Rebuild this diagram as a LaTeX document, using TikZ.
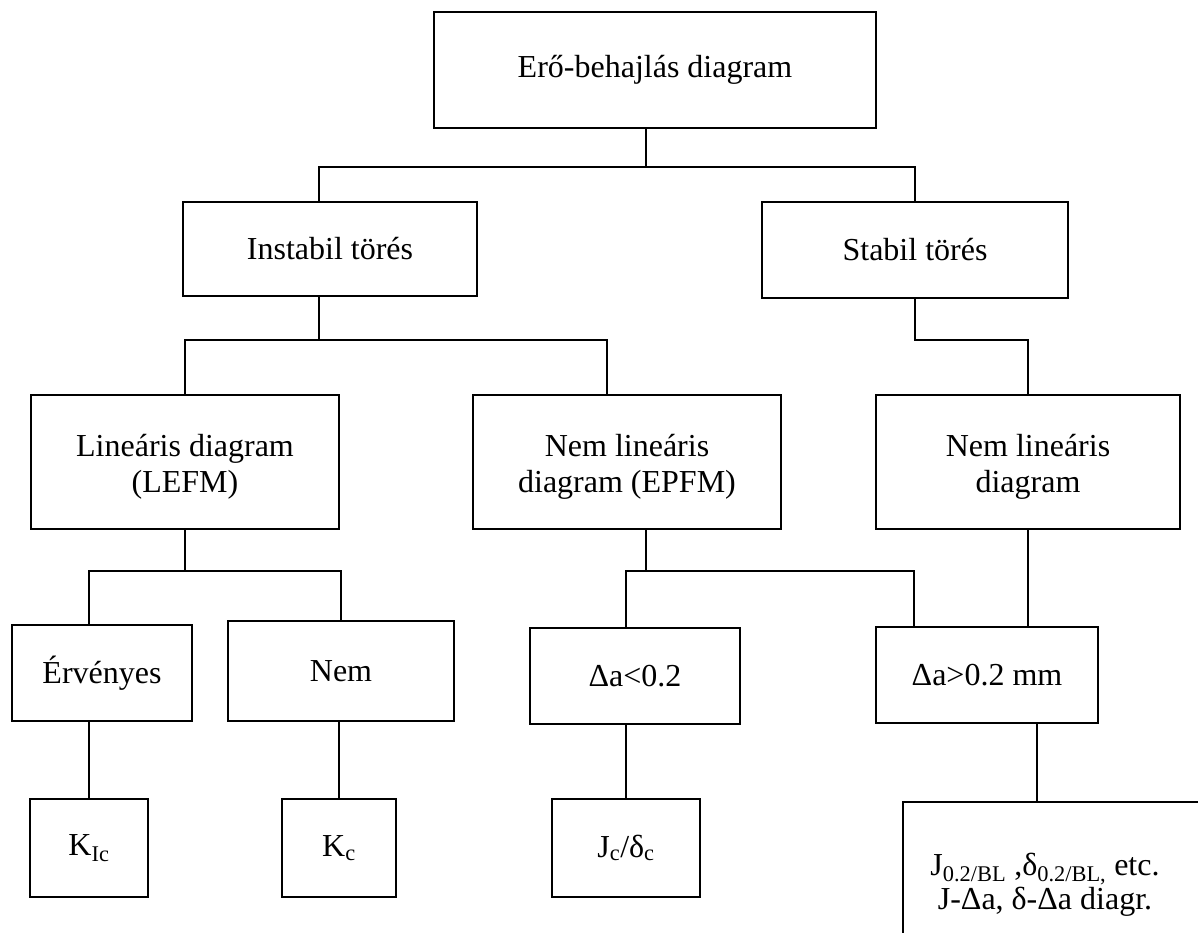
\documentclass[tikz,border=0pt]{standalone}
\usepackage{fontspec}
\setmainfont{Liberation Serif}
\newcommand{\tstrut}{\rule{0pt}{32pt}}
\begin{document}
\begin{tikzpicture}[x=1pt,y=-1pt,
  box/.style={draw, line width=1.8pt, inner sep=0pt, align=center,
    font=\fontsize{32}{36}\selectfont},
  conn/.style={line width=1.8pt},
  txt/.style={inner sep=0pt, align=center, font=\fontsize{32}{34.5}\selectfont}]
\useasboundingbox (0,0) rectangle (1198,933);
\clip (0,0) rectangle (1198,933);
% nodes
\node[box, minimum width=442, minimum height=116] (top) at (655,70) {Erő-behajlás diagram};
\node[box, minimum width=294, minimum height=94] (instabil) at (330,249) {Instabil törés};
\node[box, minimum width=306, minimum height=96] (stabil) at (915,250) {Stabil törés};
\node[box, minimum width=308, minimum height=134] (lin) at (185,462) {\tstrut Lineáris diagram\\(LEFM)};
\node[box, minimum width=308, minimum height=134] (epfm) at (627,462) {\tstrut Nem lineáris\\diagram (EPFM)};
\node[box, minimum width=304, minimum height=134] (rnl) at (1028,462) {\tstrut Nem lineáris\\diagram};
\node[box, minimum width=180, minimum height=96] (erv) at (102,673) {Érvényes};
\node[box, minimum width=226, minimum height=100] (nem) at (341,671) {Nem};
\node[box, minimum width=210, minimum height=96] (dlt) at (635,676) {Δa<0.2};
\node[box, minimum width=222, minimum height=96] (dgt) at (987,675) {Δa>0.2 mm};
\node[box, minimum width=118, minimum height=98] (kic) at (89,848) {K\textsubscript{Ic}};
\node[box, minimum width=114, minimum height=98] (kc) at (339,848) {K\textsubscript{c}};
\node[box, minimum width=148, minimum height=98] (jc) at (626,848) {J\textsubscript{c}/δ\textsubscript{c}};
\node[box, minimum width=320, minimum height=200] (jbox) at (1063,902) {};
\node[txt] (jtext) at (1045,885) {J\textsubscript{0.2/BL} ,δ\textsubscript{0.2/BL,} etc.\\J-Δa, δ-Δa diagr.};
% connectors
\draw[conn] ([xshift=-9]top.south) -- ++(0,38) coordinate (j1);
\draw[conn] ([xshift=-11]instabil.north) |- (j1) -| (stabil.north);
\draw[conn] ([xshift=-11]instabil.south) -- ++(0,43) coordinate (j2);
\draw[conn] (lin.north) |- (j2) -| ([xshift=-20]epfm.north);
\draw[conn] (stabil.south) -- ++(0,41) -| (rnl.north);
\draw[conn] (lin.south) -- ++(0,41) coordinate (j3);
\draw[conn] ([xshift=-13]erv.north) |- (j3) -| (nem.north);
\draw[conn] ([xshift=19]epfm.south) -- ++(0,41) coordinate (j4);
\draw[conn] ([xshift=-9]dlt.north) |- (j4) -| ([xshift=-73]dgt.north);
\draw[conn] (rnl.south) -- (rnl.south |- dgt.north);
\draw[conn] (kic.north |- erv.south) -- (kic.north);
\draw[conn] (kc.north |- nem.south) -- (kc.north);
\draw[conn] (jc.north |- dlt.south) -- (jc.north);
\draw[conn] ([xshift=50]dgt.south) -- ([xshift=-26]jbox.north);
\end{tikzpicture}
\end{document}
